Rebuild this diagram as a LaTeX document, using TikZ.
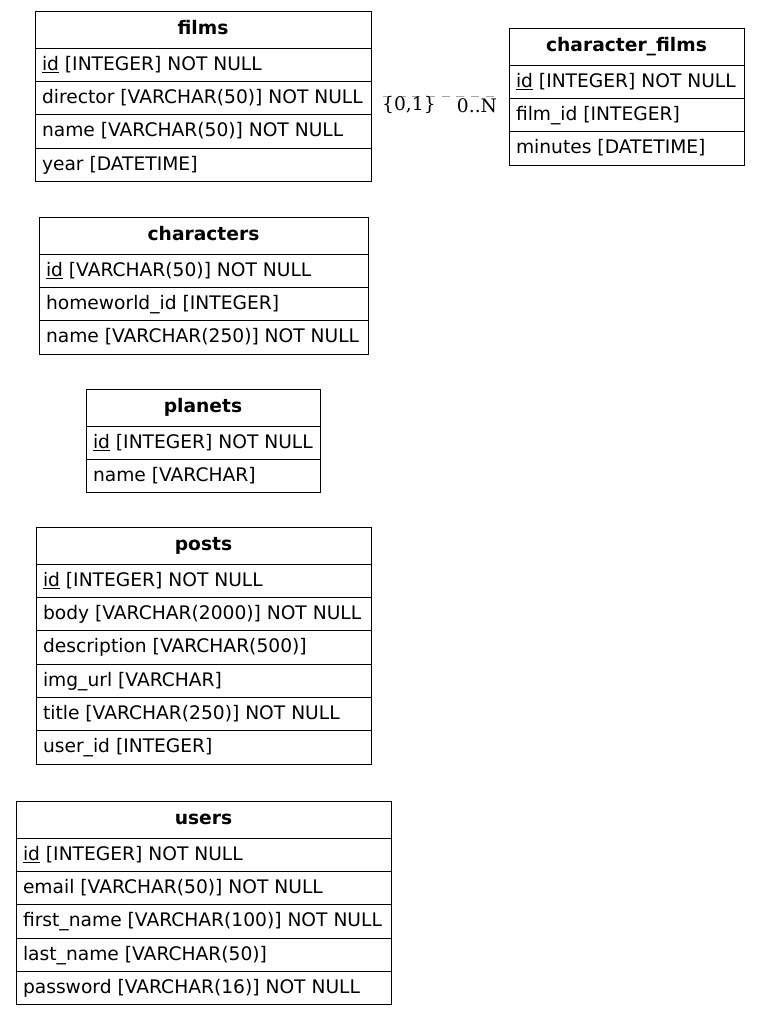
\documentclass[tikz,border=0pt]{standalone}
\usepackage{fontspec}
\setmainfont{DejaVu Sans}
\newfontfamily\lblfont{DejaVu Serif}
\usetikzlibrary{positioning}
\definecolor{relgray}{RGB}{165,165,165}

\begin{document}
\begin{tikzpicture}[x=0.75pt,y=-0.75pt,
  tblhead/.style={draw,line width=0.75pt,outer sep=0pt,anchor=north west,
    font=\fontsize{14pt}{17pt}\selectfont\bfseries,
    minimum width=#1,minimum height=27.75pt,text height=9pt,text depth=2pt},
  tblrow/.style={draw,line width=0.75pt,outer sep=0pt,inner xsep=5.25pt,
    font=\fontsize{14pt}{17pt}\selectfont,
    execute at begin node={\hbox to #1\bgroup},execute at end node={\hss\egroup},
    minimum height=25pt,text height=10pt,text depth=2pt},
  rel/.style={draw=relgray,line width=0.75pt,dash pattern=on 6pt off 5pt,
    shorten <=9pt,shorten >=8pt},
  card/.style={font=\lblfont\fontsize{14pt}{17pt}\selectfont,yshift=-7pt}
]
  \useasboundingbox (0,0) rectangle (760,1015);

  % films
  \node[tblhead=252pt] (films) at (35,11) {films};
  \node[tblrow=241.5pt,below=0pt of films] (films1) {\underline{id} [INTEGER] NOT NULL};
  \node[tblrow=241.5pt,below=0pt of films1] (films2) {director [VARCHAR(50)] NOT NULL};
  \node[tblrow=241.5pt,below=0pt of films2] (films3) {name [VARCHAR(50)] NOT NULL};
  \node[tblrow=241.5pt,below=0pt of films3] (films4) {year [DATETIME]};

  % character_films
  \node[tblhead=176.25pt] (charfilms) at (509,28) {character\_films};
  \node[tblrow=165.75pt,below=0pt of charfilms] (charfilms1) {\underline{id} [INTEGER] NOT NULL};
  \node[tblrow=165.75pt,below=0pt of charfilms1] (charfilms2) {film\_id [INTEGER]};
  \node[tblrow=165.75pt,below=0pt of charfilms2] (charfilms3) {minutes [DATETIME]};

  % characters
  \node[tblhead=246.75pt] (chars) at (39,217) {characters};
  \node[tblrow=236.25pt,below=0pt of chars] (chars1) {\underline{id} [VARCHAR(50)] NOT NULL};
  \node[tblrow=236.25pt,below=0pt of chars1] (chars2) {homeworld\_id [INTEGER]};
  \node[tblrow=236.25pt,below=0pt of chars2] (chars3) {name [VARCHAR(250)] NOT NULL};

  % planets
  \node[tblhead=175.5pt] (planets) at (86,389) {planets};
  \node[tblrow=165pt,below=0pt of planets] (planets1) {\underline{id} [INTEGER] NOT NULL};
  \node[tblrow=165pt,below=0pt of planets1] (planets2) {name [VARCHAR]};

  % posts
  \node[tblhead=251.25pt] (posts) at (36,527) {posts};
  \node[tblrow=240.75pt,below=0pt of posts] (posts1) {\underline{id} [INTEGER] NOT NULL};
  \node[tblrow=240.75pt,below=0pt of posts1] (posts2) {body [VARCHAR(2000)] NOT NULL};
  \node[tblrow=240.75pt,below=0pt of posts2] (posts3) {description [VARCHAR(500)]};
  \node[tblrow=240.75pt,below=0pt of posts3] (posts4) {img\_url [VARCHAR]};
  \node[tblrow=240.75pt,below=0pt of posts4] (posts5) {title [VARCHAR(250)] NOT NULL};
  \node[tblrow=240.75pt,below=0pt of posts5] (posts6) {user\_id [INTEGER]};

  % users
  \node[tblhead=281.25pt] (users) at (16,801) {users};
  \node[tblrow=270.75pt,below=0pt of users] (users1) {\underline{id} [INTEGER] NOT NULL};
  \node[tblrow=270.75pt,below=0pt of users1] (users2) {email [VARCHAR(50)] NOT NULL};
  \node[tblrow=270.75pt,below=0pt of users2] (users3) {first\_name [VARCHAR(100)] NOT NULL};
  \node[tblrow=270.75pt,below=0pt of users3] (users4) {last\_name [VARCHAR(50)]};
  \node[tblrow=270.75pt,below=0pt of users4] (users5) {password [VARCHAR(16)] NOT NULL};

  % relation films -- character_films
  \coordinate (filmsR) at (films.east |- 0,96);
  \coordinate (charfilmsL) at (charfilms.west |- 0,96);
  \draw[rel] (filmsR) -- node[card,pos=0.275] (cardfilms) {\{0,1\}}
    node[card,pos=0.768] (cardchar) {0..N} (charfilmsL);
\end{tikzpicture}
\end{document}
